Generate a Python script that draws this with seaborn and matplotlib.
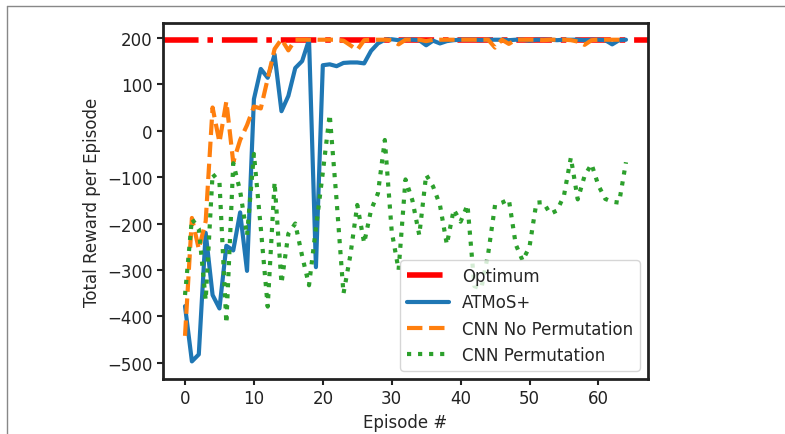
import numpy as np
import matplotlib
matplotlib.use("Agg")
import matplotlib.pyplot as plt
from matplotlib.lines import Line2D
import pandas as pd
import seaborn as sns

episodes = np.arange(0, 65)
optimum = 195

atmos = [-378, -497, -482, -220, -354, -383, -248, -258, -176, -302,
         68, 133, 114, 164, 42, 75, 135, 150, 196, -294,
         141, 143, 139, 146, 147, 147, 145, 172, 188, 196,
         197, 195, 196, 196, 195, 184, 194, 188, 193, 195,
         196, 196, 196, 195, 196, 196, 196, 195, 196, 196,
         194, 196, 196, 196, 195, 196, 196, 196, 195, 196,
         196, 195, 186, 195, 196]

cnn_no_perm = [-442, -188, -255, -195, 50, -25, 63, -68, -20, 12,
               52, 48, 112, 176, 197, 173, 196, 196, 196, 196,
               196, 196, 196, 194, 184, 174, 195, 196, 196, 196,
               195, 186, 196, 196, 196, 193, 196, 196, 196, 196,
               196, 196, 196, 196, 196, 179, 196, 187, 196, 196,
               196, 196, 195, 196, 196, 196, 195, 192, 185, 195,
               196, 196, 196, 196, 196]

cnn_perm = [-354, -190, -211, -365, -93, -111, -415, -70, -130, -226,
            -50, -210, -379, -111, -329, -222, -200, -270, -333, -210,
            -90, 35, -150, -351, -268, -160, -242, -171, -135, -20,
            -217, -300, -105, -150, -225, -95, -120, -160, -245, -170,
            -196, -160, -335, -340, -265, -160, -155, -148, -245, -280,
            -250, -155, -154, -179, -172, -140, -58, -148, -97, -72,
            -118, -147, -153, -155, -68]

df = pd.DataFrame({"episode": episodes, "ATMoS+": atmos,
                   "CNN No Permutation": cnn_no_perm,
                   "CNN Permutation": cnn_perm})

sns.set_style("white")
plt.rcParams["font.family"] = ["DejaVu Sans"]

fig = plt.figure(figsize=(7.85, 4.35), dpi=100)
ax = fig.add_axes([0.2076, 0.1264, 0.6179, 0.8184])

ax.axhline(optimum, color="red", linestyle="-.", linewidth=4, label="Optimum")
sns.lineplot(data=df, x="episode", y="ATMoS+", ax=ax, color="#1f77b4",
             linewidth=3, label="ATMoS+")
sns.lineplot(data=df, x="episode", y="CNN No Permutation", ax=ax, color="#ff7f0e",
             linewidth=3, linestyle="--", label="CNN No Permutation")
sns.lineplot(data=df, x="episode", y="CNN Permutation", ax=ax, color="#2ca02c",
             linewidth=3, linestyle=":", label="CNN Permutation")

ax.set_xlim(-3.2, 67.2)
ax.set_ylim(-535, 232)
ax.set_yticks(np.arange(-500, 201, 100))
ax.set_xticks(np.arange(0, 61, 10))
ax.tick_params(labelsize=12, length=4, width=1.5, colors="#222222", left=True, bottom=True)
ax.set_xlabel("Episode #", fontsize=12)
ax.set_ylabel("Total Reward per Episode", fontsize=12)
for s in ax.spines.values():
    s.set_color("#222222")
    s.set_linewidth(2)

ax.legend(loc="lower right", fontsize=12, frameon=True, framealpha=0.8,
          edgecolor="#cccccc", fancybox=True, handlelength=2.5)

# gray frame around the figure
fig.add_artist(Line2D([7 / 785, 7 / 785], [0, 1 - 7 / 435], color="#888888", lw=1))
fig.add_artist(Line2D([7 / 785, 1], [1 - 7 / 435, 1 - 7 / 435], color="#888888", lw=1))

fig.savefig("out.png", dpi=100)
